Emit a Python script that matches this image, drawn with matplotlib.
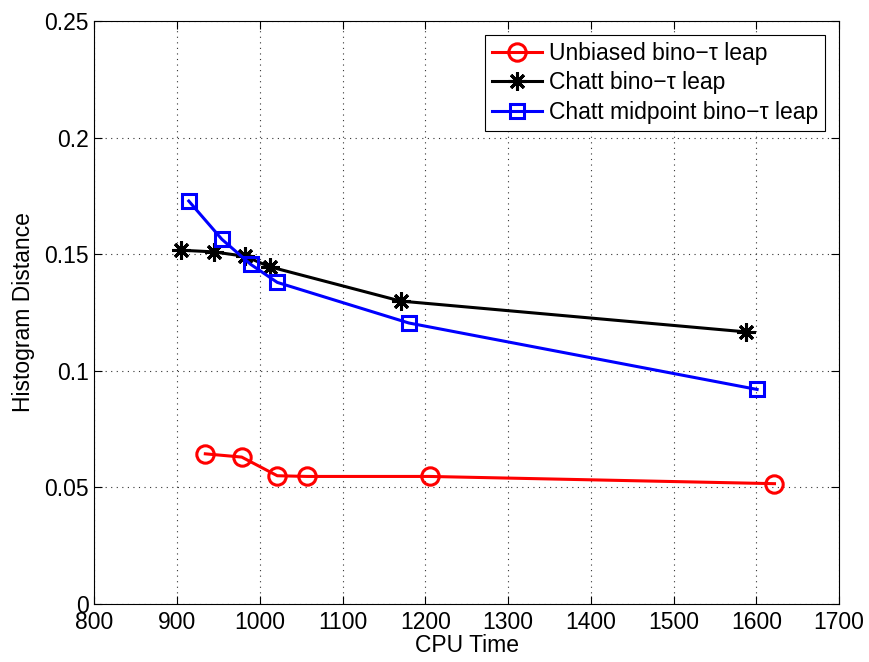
import matplotlib
matplotlib.use("Agg")
import matplotlib.pyplot as plt

plt.rcParams['font.family'] = ['Liberation Sans', 'DejaVu Sans']

unbiased_x = [934, 978, 1021, 1057, 1205, 1622]
unbiased_y = [0.0644, 0.0630, 0.0550, 0.0547, 0.0547, 0.0516]
chatt_x = [905, 944, 982, 1012, 1170, 1587]
chatt_y = [0.1517, 0.1510, 0.1491, 0.1446, 0.1299, 0.1167]
mid_x = [914, 954, 989, 1021, 1180, 1601]
mid_y = [0.1728, 0.1564, 0.1456, 0.1379, 0.1205, 0.0920]

labels = ["Unbiased bino\u2212\u03c4 leap", "Chatt bino\u2212\u03c4 leap", "Chatt midpoint bino\u2212\u03c4 leap"]
xticks = [800, 900, 1000, 1100, 1200, 1300, 1400, 1500, 1600, 1700]
yticks = [0, 0.05, 0.1, 0.15, 0.2, 0.25]
yticklabels = ["0", "0.05", "0.1", "0.15", "0.2", "0.25"]

FS = 16.5

fig = plt.figure(figsize=(8.69, 6.62), dpi=100)
ax = fig.add_axes([0.1087, 0.0876, 0.8568, 0.8807])

ax.plot(unbiased_x, unbiased_y, color='#ff0000', lw=2.2, marker='o', ms=12.5,
        mfc='none', mew=2.2, label=labels[0])
ax.plot(chatt_x, chatt_y, color='black', lw=2.2, marker=(8, 2, 0), ms=13,
        mew=2.2, label=labels[1])
ax.plot(mid_x, mid_y, color='#0000ff', lw=2.2, marker='s', ms=10,
        mfc='none', mew=2.2, label=labels[2])

ax.set_xlim(800, 1700)
ax.set_ylim(0, 0.25)
ax.set_xticks(xticks)
ax.set_yticks(yticks)
ax.set_yticklabels(yticklabels)
ax.tick_params(direction='in', top=True, right=True, labelsize=FS, length=6, width=0.8, pad=4)
ax.tick_params(axis='x', pad=5)
ax.grid(True, linestyle=(0, (1, 4)), color='#333333', lw=0.8)
for s in ax.spines.values():
    s.set_linewidth(0.8)
ax.set_xlabel("CPU Time", fontsize=FS, labelpad=0)
ax.set_ylabel("Histogram Distance", fontsize=FS, labelpad=7)

leg = ax.legend(loc='upper right', fontsize=FS, fancybox=False, framealpha=1,
                edgecolor='black', handlelength=2.2, borderpad=0.3,
                labelspacing=0.3, handletextpad=0.3, borderaxespad=0.6)
leg.get_frame().set_linewidth(0.8)

fig.savefig("out.png", dpi=100)
